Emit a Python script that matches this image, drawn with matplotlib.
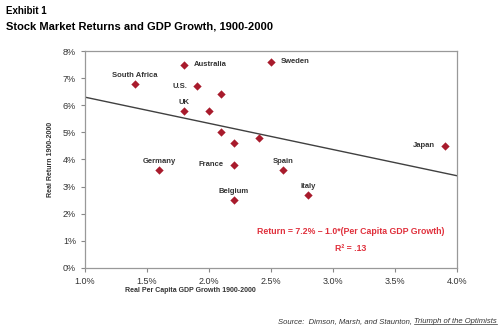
import matplotlib.pyplot as plt
from matplotlib.ticker import FuncFormatter

plt.rcParams['font.family'] = ['Liberation Sans', 'DejaVu Sans']

# per capita GDP growth (%) and real return (%)
gdp = [1.4, 1.8, 1.9, 2.1, 1.8, 2.0, 2.1, 2.2, 2.4, 2.5, 3.9, 1.6, 2.2, 2.6, 2.2, 2.8]
ret = [6.8, 7.5, 6.7, 6.4, 5.8, 5.8, 5.0, 4.6, 4.8, 7.6, 4.5, 3.6, 3.8, 3.6, 2.5, 2.7]
names = ["South Africa", "Australia", "U.S.", "", "UK", "", "", "", "", "Sweden",
         "Japan", "Germany", "France", "Spain", "Belgium", "Italy"]
# where the label sits relative to the point
places = ["above", "right", "left", "", "above", "", "", "", "", "right",
          "left", "above", "left", "above", "above", "above"]

trend_x = [1.0, 4.0]
trend_y = [6.3, 3.4]

fig = plt.figure(figsize=(5, 3.34), dpi=100)
ax = fig.add_axes([0.17, 0.198, 0.744, 0.649])

ax.plot(trend_x, trend_y, color="#404040", lw=1.0, zorder=2)
ax.scatter(gdp, ret, marker="D", s=18, color="#A81B2C", zorder=3, linewidths=0)

offsets = {"above": ((0, 3.5), "center", "bottom"),
           "right": ((7, 0), "left", "center"),
           "left": ((-7, 0), "right", "center")}
for x, y, n, p in zip(gdp, ret, names, places):
    if not n:
        continue
    off, ha, va = offsets[p]
    ax.annotate(n, (x, y), xytext=off, textcoords="offset points",
                ha=ha, va=va, fontsize=5.5, fontweight="bold", color="#333333")

ax.text(3.14, 1.33, "Return = 7.2% \u2013 1.0*(Per Capita GDP Growth)", color="#E0303C",
        fontsize=6.3, fontweight="bold", ha="center", va="center")
ax.text(3.14, 0.72, "R\u00b2 = .13", color="#E0303C",
        fontsize=6.3, fontweight="bold", ha="center", va="center")

ax.set_xlim(1.0, 4.0)
ax.set_ylim(0, 8)
ax.set_xticks([1.0, 1.5, 2.0, 2.5, 3.0, 3.5, 4.0])
ax.set_yticks(range(0, 9))
ax.xaxis.set_major_formatter(FuncFormatter(lambda v, _: f"{v:.1f}%"))
ax.yaxis.set_major_formatter(FuncFormatter(lambda v, _: f"{v:.0f}%"))
ax.tick_params(labelsize=6.5, length=3, width=0.8, color="#888888", labelcolor="#333333")
for s in ax.spines.values():
    s.set_color("#999999")
    s.set_linewidth(0.9)

ax.set_ylabel("Real Return 1900-2000", fontsize=5, fontweight="bold", color="#333333", labelpad=6)
fig.text(0.38, 0.13, "Real Per Capita GDP Growth 1900-2000", fontsize=5, fontweight="bold",
         color="#333333", ha="center", va="center")

fig.text(0.012, 0.968, "Exhibit 1", fontsize=7, fontweight="bold", va="center")
fig.text(0.012, 0.922, "Stock Market Returns and GDP Growth, 1900-2000", fontsize=8,
         fontweight="bold", va="center")

# source line, with the book title underlined
src2 = fig.text(0.994, 0.038, "Triumph of the Optimists", fontsize=5.5, style="italic",
                ha="right", va="center", color="#333333")
fig.canvas.draw()
r = fig.canvas.get_renderer()
bb = src2.get_window_extent(r).transformed(fig.transFigure.inverted())
fig.text(bb.x0, 0.038, "Source:  Dimson, Marsh, and Staunton, ", fontsize=5.5, style="italic",
         ha="right", va="center", color="#333333")
fig.add_artist(plt.Line2D([bb.x0, bb.x1], [bb.y0 + 0.002, bb.y0 + 0.002],
                          color="#333333", lw=0.5, transform=fig.transFigure))

fig.savefig("out.png", dpi=100)
